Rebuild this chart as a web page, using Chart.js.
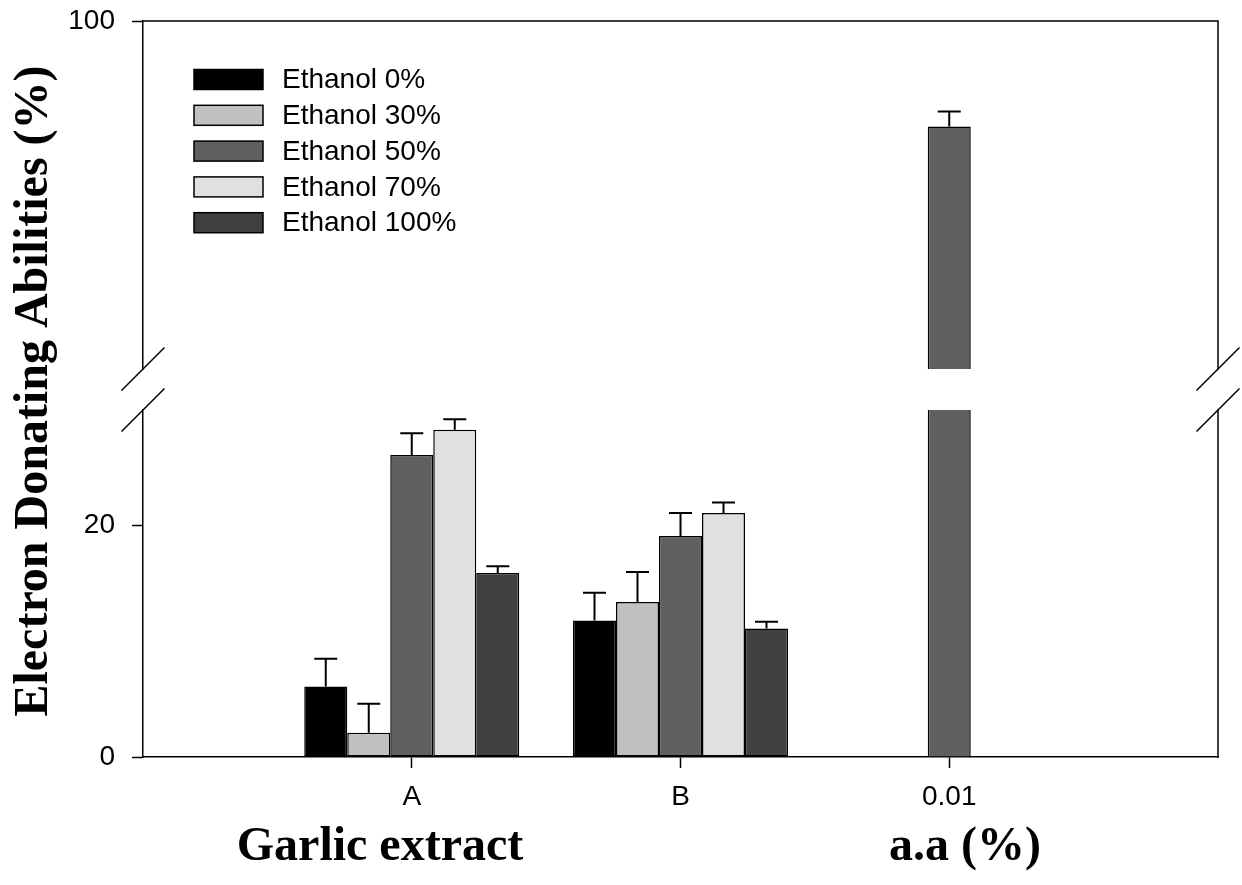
<!DOCTYPE html>
<html lang="en">
<head>
<meta charset="UTF-8">
<title>Electron Donating Abilities</title>
<script src="https://cdn.jsdelivr.net/npm/chart.js"></script>
<style>
body{margin:0;background:#fff;}
.wrap{width:1242px;height:885px;position:relative;}
</style>
</head>
<body>
<div class="wrap"><canvas id="edaChart"></canvas></div>

<script>
/* -------------------------------------------------- */
/* 0.  Data                                           */
/* -------------------------------------------------- */
// empty first/last slots give the axis its side margins
const CATEGORIES=["","A","B","0.01",""];
const SERIES=["Ethanol 0%","Ethanol 30%","Ethanol 50%","Ethanol 70%","Ethanol 100%"];

const ETH0   =[null, 6.1,11.8,null,null];
const ETH30  =[null, 2.1,13.4,null,null];
const ETH50  =[null,26.1,19.1,90.9,null];
const ETH70  =[null,28.3,21.1,null,null];
const ETH100 =[null,15.9,11.1,null,null];

const ETH0_SD  =[null,2.4,2.4,null,null];
const ETH30_SD =[null,2.5,2.6,null,null];
const ETH50_SD =[null,1.9,2.0,1.3,null];
const ETH70_SD =[null,0.9,0.9,null,null];
const ETH100_SD=[null,0.6,0.6,null,null];

const Y_TICKS=[0,20,100];
// broken y axis: 0-30 below the break, 70-100 above it
const LOW_MAX=30, HIGH_MIN=70, HIGH_MAX=100;

/* -------------------------------------------------- */
/* 1.  Styling                                        */
/* -------------------------------------------------- */
const FILLS=["#000000","#c0c0c0","#606060","#e0e0e0","#404040"];
const SANS="'Liberation Sans', Arial, sans-serif";
const SERIF="'Liberation Serif', 'Times New Roman', serif";
const LINE=1.5;
const ERR_LINE=2;

const values=[ETH0,ETH30,ETH50,ETH70,ETH100];
const errors=[ETH0_SD,ETH30_SD,ETH50_SD,ETH70_SD,ETH100_SD];

/* -------------------------------------------------- */
/* 2.  Datasets                                       */
/* -------------------------------------------------- */
const datasets=SERIES.map((name,i)=>({
    label:name,
    data:values[i].map(v=>v==null?null:Math.min(v,LOW_MAX)),
    yAxisID:"yLow",
    backgroundColor:FILLS[i],
    borderColor:"#000",
    borderWidth:c=>{
        const v=values[i][c.dataIndex];
        return v>LOW_MAX?{left:LINE,right:LINE,top:0,bottom:0}:LINE;
    },
    borderSkipped:false,
    categoryPercentage:0.8,
    barPercentage:1.0
}));

// upper piece of any bar that runs past the break
values.forEach((arr,i)=>{
    if(!arr.some(v=>v>HIGH_MIN)) return;
    datasets.push({
        label:SERIES[i]+" (upper)",
        data:arr.map(v=>v>HIGH_MIN?[HIGH_MIN,v]:null),
        yAxisID:"yHigh",
        backgroundColor:FILLS[i],
        borderColor:"#000",
        borderWidth:{left:LINE,right:LINE,top:LINE,bottom:0},
        borderSkipped:false,
        grouped:false,
        categoryPercentage:0.8,
        barPercentage:1/SERIES.length
    });
});

/* -------------------------------------------------- */
/* 3.  Plugins: error bars, frame + breaks, legend    */
/* -------------------------------------------------- */
const errorBars={
    id:"errorBars",
    afterDatasetsDraw(chart){
        const ctx=chart.ctx;
        ctx.save();
        ctx.strokeStyle="#000";ctx.lineWidth=ERR_LINE;
        SERIES.forEach((_,i)=>{
            const meta=chart.getDatasetMeta(i);
            meta.data.forEach((el,j)=>{
                const v=values[i][j],e=errors[i][j];
                if(v==null||e==null) return;
                const sc=v>LOW_MAX?chart.scales.yHigh:chart.scales.yLow;
                const y0=sc.getPixelForValue(v),y1=sc.getPixelForValue(v+e);
                ctx.beginPath();
                ctx.moveTo(el.x,y0);ctx.lineTo(el.x,y1);
                ctx.moveTo(el.x-11.5,y1);ctx.lineTo(el.x+11.5,y1);
                ctx.stroke();
            });
        });
        ctx.restore();
    }
};

const frame={
    id:"frame",
    afterDraw(chart){
        const {ctx,chartArea:a,scales}=chart;
        const hi=scales.yHigh,lo=scales.yLow;
        ctx.save();
        ctx.strokeStyle="#000";ctx.lineWidth=LINE;ctx.lineCap="square";
        ctx.beginPath();
        ctx.moveTo(a.left,a.top);ctx.lineTo(a.right,a.top);
        ctx.moveTo(a.right,hi.top);ctx.lineTo(a.right,hi.bottom);
        ctx.moveTo(a.right,lo.top);ctx.lineTo(a.right,lo.bottom);
        ctx.stroke();
        // break marks on both sides
        ctx.lineCap="butt";
        ctx.beginPath();
        [a.left,a.right].forEach(x=>{
            [hi.bottom,lo.top].forEach(y=>{
                ctx.moveTo(x-21.5,y+21.5);ctx.lineTo(x+21.5,y-21.5);
            });
        });
        ctx.stroke();

        // axis titles
        ctx.fillStyle="#000";
        ctx.font="bold 48px "+SERIF;
        ctx.textAlign="center";ctx.textBaseline="alphabetic";
        ctx.fillText("Garlic extract",380,860);
        ctx.fillText("a.a (%)",965,860);
        ctx.translate(35,391);ctx.rotate(-Math.PI/2);
        ctx.textBaseline="middle";
        ctx.fillText("Electron Donating Abilities (%)",0,0);
        ctx.restore();
    }
};

const boxLegend={
    id:"boxLegend",
    afterDraw(chart){
        const {ctx,chartArea:a}=chart;
        ctx.save();
        ctx.font="28px "+SANS;
        ctx.textBaseline="middle";ctx.textAlign="left";
        SERIES.forEach((name,i)=>{
            const y=a.top+58.5+i*35.8;
            ctx.fillStyle=FILLS[i];
            ctx.fillRect(a.left+51,y-10,69,20);
            ctx.strokeStyle="#000";ctx.lineWidth=LINE;
            ctx.strokeRect(a.left+51,y-10,69,20);
            ctx.fillStyle="#000";
            ctx.fillText(name,a.left+139,y+1);
        });
        ctx.restore();
    }
};

/* -------------------------------------------------- */
/* 4.  Chart                                          */
/* -------------------------------------------------- */
const yCommon={
    position:"left",stack:"y",stacked:false,
    grid:{drawOnChartArea:false,drawTicks:true,tickLength:11,tickWidth:LINE,tickColor:"#000"},
    border:{display:true,color:"#000",width:LINE},
    ticks:{color:"#000",font:{family:SANS,size:28},padding:17},
    afterBuildTicks:s=>{s.ticks=s.ticks.filter(t=>Y_TICKS.includes(t.value));},
    // fixed gutter; the tick labels may overhang the plot edges
    afterFit:s=>{s.width=143;s.paddingTop=0;s.paddingBottom=0;}
};

new Chart(document.getElementById("edaChart"),{
    type:"bar",
    data:{labels:CATEGORIES,datasets},
    plugins:[errorBars,frame,boxLegend],
    options:{
        animation:false,
        responsive:true,
        maintainAspectRatio:false,
        layout:{padding:{left:0,top:21,right:24,bottom:0}},
        plugins:{legend:{display:false},tooltip:{enabled:false}},
        scales:{
            x:{
                offset:false,
                grid:{
                    offset:false,
                    drawOnChartArea:false,drawTicks:true,tickLength:11,tickWidth:LINE,
                    tickColor:c=>c.tick&&c.tick.label?"#000":"rgba(0,0,0,0)"
                },
                border:{display:true,color:"#000",width:LINE},
                ticks:{color:"#000",font:{family:SANS,size:28},padding:12,maxRotation:0,autoSkip:false},
                afterFit:s=>{s.height=128;s.paddingLeft=0;s.paddingRight=0;}
            },
            yLow :{...yCommon,min:0,max:LOW_MAX,stackWeight:347,weight:1,ticks:{...yCommon.ticks,stepSize:10}},
            yGap :{...yCommon,min:LOW_MAX,max:HIGH_MIN,stackWeight:41,weight:2,
                   border:{display:false},grid:{display:false},ticks:{display:false}},
            yHigh:{...yCommon,min:HIGH_MIN,max:HIGH_MAX,stackWeight:348,weight:3,ticks:{...yCommon.ticks,stepSize:10}}
        }
    }
});
</script>
</body>
</html>
